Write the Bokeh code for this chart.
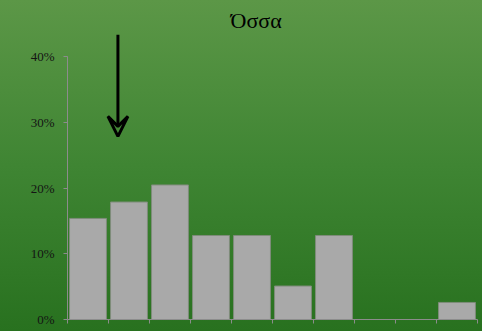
from bokeh.plotting import figure
from bokeh.models import Range1d, FixedTicker, Arrow, VeeHead, Label
from bokeh.embed import file_html
from bokeh.resources import INLINE

# Share of observations per bin (%)
bins = [0.5, 1.5, 2.5, 3.5, 4.5, 5.5, 6.5, 7.5, 8.5, 9.5]
shares = [15.4, 17.9, 20.5, 12.8, 12.8, 5.1, 12.8, 0.0, 0.0, 2.6]
y_ticks = [0, 10, 20, 30, 40]
y_tick_labels = {0: "0%", 10: "10%", 20: "20%", 30: "30%", 40: "40%"}
x_edges = list(range(0, 11))
title_text = "Όσσα"
marker_x = 1.23
marker_top, marker_tip = 43.4, 27.9

p = figure(width=482, height=331, output_backend="svg", toolbar_location=None,
           x_range=Range1d(0, 10), y_range=Range1d(0, 48.6),
           min_border_left=67, min_border_right=5, min_border_top=0,
           min_border_bottom=12)

# green vertical gradient behind a transparent canvas
p.background_fill_alpha = 0
p.border_fill_alpha = 0
p.outline_line_color = None
p.styles = {"background-image": "linear-gradient(to bottom, #5c9747, #3f8533 50%, #28711f)"}
p.grid.visible = False

p.vbar(x=bins, top=shares, width=0.9, bottom=0,
       fill_color="#a9a9a9", line_color="#7f8c7b", line_width=1)

# y axis
ya = p.yaxis[0]
ya.ticker = FixedTicker(ticks=y_ticks)
ya.major_label_overrides = y_tick_labels
ya.bounds = (0, 40)
ya.axis_line_color = "#8c8c8c"
ya.major_tick_line_color = "#8c8c8c"
ya.major_tick_in = 0
ya.major_tick_out = 4
ya.minor_tick_line_color = None
ya.major_label_text_font = "Liberation Serif"
ya.major_label_text_font_size = "13px"
ya.major_label_text_color = "#141414"
ya.major_label_standoff = 9

# x axis: ticks on bin edges, no labels
xa = p.xaxis[0]
xa.ticker = FixedTicker(ticks=x_edges)
xa.major_label_overrides = {e: "" for e in x_edges}
xa.axis_line_color = "#8c8c8c"
xa.major_tick_line_color = "#8c8c8c"
xa.major_tick_in = 0
xa.major_tick_out = 4
xa.minor_tick_line_color = None

p.add_layout(Arrow(end=VeeHead(size=20, line_width=3, line_color="black", fill_alpha=0),
                   x_start=marker_x, y_start=marker_top, x_end=marker_x, y_end=marker_tip,
                   line_width=3, line_color="black"))

p.add_layout(Label(x=4.6, y=45.6, text=title_text, text_align="center",
                   text_baseline="middle", text_font="Liberation Serif",
                   text_font_size="22px", text_color="black"))

open("out.html", "w").write(file_html(p, INLINE))
